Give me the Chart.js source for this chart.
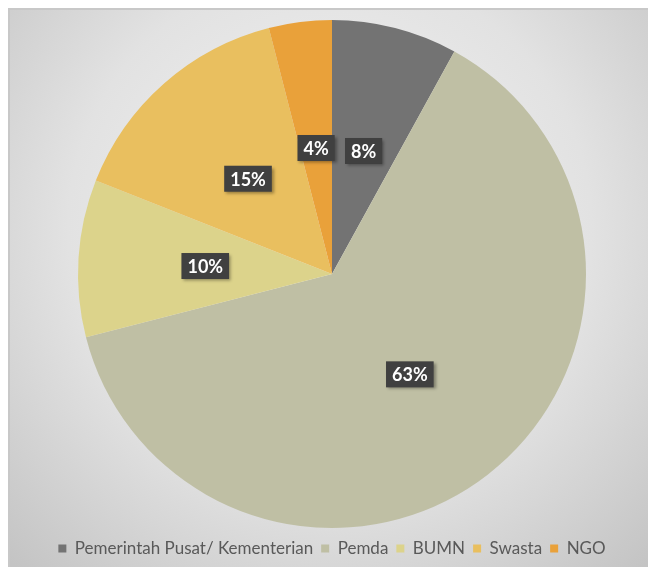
<!DOCTYPE html>
<html>
<head>
<meta charset="utf-8">
<script src="https://cdn.jsdelivr.net/npm/chart.js@4.4.1/dist/chart.umd.min.js"></script>
<style>
    html, body { margin: 0; padding: 0; background: #fff; }
    #wrap { width: 648px; height: 567px; position: relative; }
</style>
</head>
<body>
<div id="wrap"><canvas id="mypiechart" width="648" height="567"></canvas></div>
<script>
    var categories = ["Pemerintah Pusat/ Kementerian", "Pemda", "BUMN", "Swasta", "NGO"];
    var shares = [8, 63, 10, 15, 4];
    var sliceColors = ["#737373", "#bfbfa4", "#dcd38b", "#e9bf5f", "#e9a13a"];

    // frame with radial grey gradient behind the chart
    var backgroundPlugin = {
        id: "frameBackground",
        beforeDraw: function (chart) {
            var ctx = chart.ctx;
            ctx.save();
            ctx.fillStyle = "#ffffff";
            ctx.fillRect(0, 0, chart.width, chart.height);
            var g = ctx.createRadialGradient(330, 230, 20, 330, 230, 460);
            g.addColorStop(0, "#f3f3f3");
            g.addColorStop(0.55, "#e2e2e2");
            g.addColorStop(1, "#c4c4c4");
            ctx.fillStyle = g;
            ctx.fillRect(8, 8, chart.width - 8, chart.height - 8);
            ctx.strokeStyle = "#c8c8c8";
            ctx.lineWidth = 2;
            ctx.beginPath();
            ctx.moveTo(9, chart.height);
            ctx.lineTo(9, 9);
            ctx.lineTo(chart.width, 9);
            ctx.stroke();
            ctx.restore();
        },
    };

    // dark boxed percentage labels
    var labelPlugin = {
        id: "boxLabels",
        afterDatasetsDraw: function (chart) {
            var ctx = chart.ctx;
            var meta = chart.getDatasetMeta(0);
            ctx.save();
            ctx.font = "bold 18px Lato";
            ctx.textAlign = "center";
            ctx.textBaseline = "middle";
            meta.data.forEach(function (arc, i) {
                var mid = (arc.startAngle + arc.endAngle) / 2;
                var r = arc.outerRadius * 0.5;
                var x = arc.x + Math.cos(mid) * r;
                var y = arc.y + Math.sin(mid) * r;
                var text = shares[i] + "%";
                var w = ctx.measureText(text).width + 12;
                var h = 26;
                ctx.shadowColor = "rgba(0,0,0,0.35)";
                ctx.shadowBlur = 3;
                ctx.shadowOffsetX = 2;
                ctx.shadowOffsetY = 2;
                ctx.fillStyle = "#404040";
                ctx.fillRect(x - w / 2, y - h / 2, w, h);
                ctx.shadowColor = "transparent";
                ctx.fillStyle = "#ffffff";
                ctx.fillText(text, x, y + 1);
            });
            ctx.restore();
        },
    };

    new Chart(document.getElementById("mypiechart").getContext("2d"), {
        type: "pie",
        data: {
            labels: categories,
            datasets: [
                {
                    data: shares,
                    backgroundColor: sliceColors,
                    borderWidth: 0,
                    radius: 254,
                },
            ],
        },
        options: {
            responsive: false,
            animation: false,
            layout: {
                padding: { top: 16, left: 16, right: 0, bottom: 0 },
            },
            plugins: {
                tooltip: { enabled: false },
                legend: {
                    position: "bottom",
                    labels: {
                        boxWidth: 8,
                        boxHeight: 8,
                        padding: 8,
                        color: "#595959",
                        font: { family: "Lato", size: 17 },
                    },
                },
            },
        },
        plugins: [backgroundPlugin, labelPlugin],
    });
</script>
</body>
</html>
